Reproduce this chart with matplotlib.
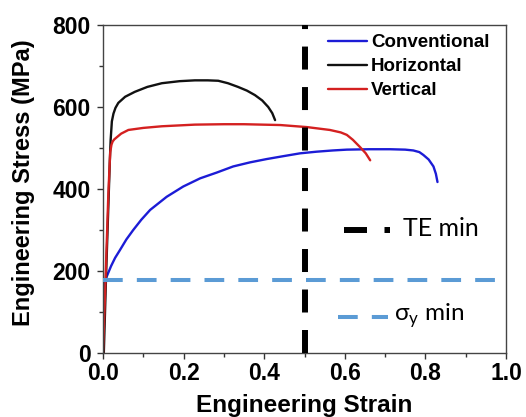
import matplotlib
matplotlib.use("Agg")
import matplotlib.pyplot as plt
from matplotlib.ticker import MultipleLocator

plt.rcParams['font.family'] = ['Liberation Sans', 'DejaVu Sans']

# ---- data ----
conv_strain = [0.0, 0.002, 0.005, 0.009, 0.02, 0.03, 0.042, 0.058, 0.075, 0.095, 0.117, 0.158, 0.199,
               0.241, 0.282, 0.323, 0.365, 0.406, 0.447, 0.489, 0.53, 0.57, 0.605, 0.66, 0.712,
               0.75, 0.77, 0.785, 0.795, 0.808, 0.82, 0.826, 0.83]
conv_stress = [0, 120, 170, 186, 212, 232, 251, 277, 300, 325, 349, 381, 406,
               426, 440, 455, 465, 473, 480, 487, 491, 494, 496, 497, 497,
               496, 494, 490, 483, 472, 455, 437, 417]

hor_strain = [0.002, 0.008, 0.014, 0.017, 0.019, 0.022, 0.026, 0.031, 0.038, 0.055, 0.079, 0.11, 0.146,
              0.19, 0.228, 0.26, 0.286, 0.31, 0.335, 0.357, 0.377, 0.395, 0.41, 0.42, 0.427]
hor_stress = [0, 200, 380, 470, 520, 565, 584, 598, 610, 625, 637, 649, 658,
              663, 665, 665, 664, 658, 649, 640, 629, 616, 600, 585, 568]

ver_strain = [0.0, 0.006, 0.013, 0.016, 0.018, 0.021, 0.024, 0.028, 0.034, 0.045, 0.063, 0.1, 0.146,
              0.228, 0.3, 0.35, 0.44, 0.506, 0.563, 0.59, 0.605, 0.62, 0.638, 0.652, 0.663]
ver_stress = [0, 170, 380, 450, 490, 508, 516, 521, 526, 535, 544, 549, 553,
              557, 558, 558, 556, 551, 544, 538, 532, 520, 502, 487, 470]

te_min = 0.5
sy_min = 177

labels = ['Conventional', 'Horizontal', 'Vertical']
colors = ['#1c1cd6', '#111111', '#d42020']

# ---- figure ----
W, H = 526, 417
fig = plt.figure(figsize=(W / 100, H / 100), dpi=100)
ax = fig.add_axes([103 / W, (H - 353) / H, (506 - 103) / W, (353 - 25) / H])

curves = [(conv_strain, conv_stress), (hor_strain, hor_stress), (ver_strain, ver_stress)]
handles = []
for (xs, ys), lab, c in zip(curves, labels, colors):
    h, = ax.plot(xs, ys, color=c, lw=1.7, label=lab, solid_capstyle='round', solid_joinstyle='round')
    handles.append(h)

# minimum lines
sy_kw = dict(color='#5b9bd5', lw=2.9, linestyle=(0, (4.9, 3.5)), dash_capstyle='butt')
te_kw = dict(color='black', lw=4.3, linestyle=(0, (3.85, 2.93)), dash_capstyle='butt')
ax.plot([0, 1], [sy_min, sy_min], **sy_kw, clip_on=False, zorder=4)
ax.plot([te_min, te_min], [0, 800], **te_kw, zorder=5)

ax.set_xlim(0, 1.0)
ax.set_ylim(0, 800)
ax.xaxis.set_major_locator(MultipleLocator(0.2))
ax.xaxis.set_minor_locator(MultipleLocator(0.1))
ax.yaxis.set_major_locator(MultipleLocator(200))
ax.yaxis.set_minor_locator(MultipleLocator(100))
ax.xaxis.set_major_formatter(plt.FuncFormatter(lambda v, p: f"{v:.1f}"))
ax.tick_params(which='both', direction='out', top=False, right=False, colors='#333333',
               width=1.0, labelcolor='black')
ax.tick_params(which='major', length=4.3, labelsize=16.5)
ax.tick_params(which='minor', length=3)
ax.tick_params(axis='x', which='major', pad=2)
ax.tick_params(axis='y', which='major', pad=4.5)
for lab in ax.get_xticklabels() + ax.get_yticklabels():
    lab.set_fontweight('bold')
for s in ax.spines.values():
    s.set_linewidth(1.0)
    s.set_color('#444444')

ax.set_xlabel('Engineering Strain', fontsize=17.5, fontweight='bold', va='top')
ax.xaxis.set_label_coords(0.5, (353 - 394) / 328)
ax.set_ylabel('Engineering Stress (MPa)', fontsize=17, fontweight='bold')
ax.yaxis.set_label_coords((35 - 103) / 403, (353 - 183) / 328)

leg = ax.legend(handles=handles, loc='upper left', bbox_to_anchor=((328 - 103) / 403, (353 - 34) / 328),
                frameon=False, borderpad=0, borderaxespad=0, handlelength=2.1, handletextpad=0.2,
                labelspacing=0.37, prop=dict(family=['Liberation Sans'], weight='bold', size=13.5))

# extra key entries (drawn in axes coordinates)
def px_x(p):
    return (p - 103) / 403

def px_y(p):
    return (353 - p) / 328

ax.plot([px_x(344), px_x(390)], [px_y(230), px_y(230)], transform=ax.transAxes, clip_on=False, **te_kw)
ax.text(px_x(403), px_y(228), 'TE min', transform=ax.transAxes, va='center', ha='left',
        fontsize=18, family=['Lato', 'DejaVu Sans'])
ax.plot([px_x(338), px_x(388)], [px_y(317), px_y(317)], transform=ax.transAxes, clip_on=False, **sy_kw)
ax.text(px_x(394), px_y(316), 'σ$_\\mathregular{y}$ min', transform=ax.transAxes, va='center', ha='left',
        fontsize=17.5, family=['Lato', 'DejaVu Sans'])

fig.savefig('out.png', dpi=100)
